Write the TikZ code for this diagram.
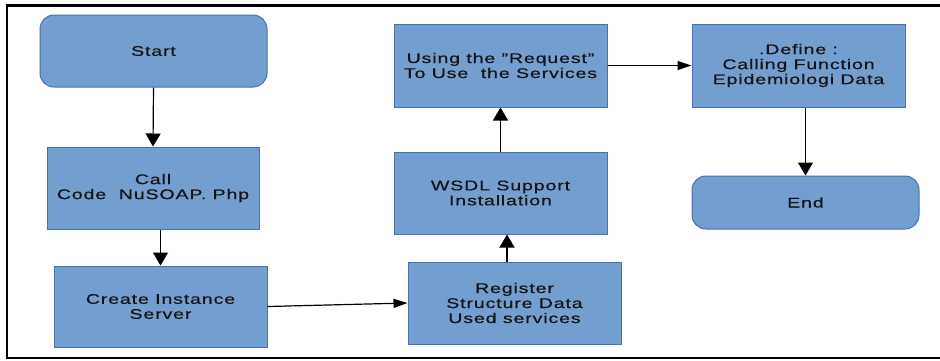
\documentclass[tikz,border=0pt]{standalone}
\usepackage{fontspec}
\setmainfont{Liberation Sans}[FakeStretch=1.4,LetterSpace=6,FakeBold=0.4]
\usetikzlibrary{arrows.meta}
\definecolor{boxfill}{HTML}{729FCF}
\definecolor{boxline}{HTML}{4472B4}
\definecolor{txt}{HTML}{141414}
\begin{document}
\begin{tikzpicture}[x=1pt,y=-1pt,
  flowbox/.style={draw=boxline,fill=boxfill,line width=1pt,minimum width=213pt,minimum height=82pt,
    align=center,text=txt,font=\fontsize{14}{15}\selectfont,inner sep=0pt},
  termbox/.style={flowbox,rounded corners=14pt,minimum width=227pt},
  arrv/.style={line width=1.2pt,-{Triangle[width=15pt,length=13pt]}},
  arrh/.style={line width=1.2pt,-{Triangle[width=9pt,length=14pt]}}]
\useasboundingbox (0,0) rectangle (940,360);
\draw[line width=3pt] (940,5) -- (7,5);
\draw[line width=2pt] (7,4) -- (7,358);
\draw[line width=1.5pt] (6,358) -- (940,358);
\node[termbox,minimum height=72pt] (start) at (153.5,51) {Start};
\node[flowbox,minimum width=212pt] (call) at (153,188) {Call\\Code\ \ NuSOAP. Php};
\node[flowbox,minimum height=81pt] (create) at (160.5,306.5) {Create Instance\\Server};
\node[flowbox] (reg) at (514.5,303) {Register\\Structure Data\\Used services};
\node[flowbox] (wsdl) at (500.5,193) {WSDL Support\\Installation};
\node[flowbox,minimum height=83pt] (using) at (500.5,65.5) {Using the "Request"\\To Use\ \ the Services};
\node[flowbox,minimum height=83pt] (define) at (798.5,65.5) {.Define :\\Calling Function\\Epidemiologi Data};
\node[termbox,minimum height=53pt] (end) at (805.5,202.5) {End};
\draw[arrv] (start.south) -- (call.north);
\draw[arrv] (call.south -| create.north) -- (create.north);
\draw[arrh] (create.east) -- (reg.west);
\draw[arrv] ([xshift=-7.5pt]reg.north) -- ([xshift=-7.5pt]reg.north |- wsdl.south);
\draw[arrv] (wsdl.north) -- (using.south);
\draw[arrh] (using.east) -- (define.west);
\draw[arrv] (end.north |- define.south) -- (end.north);
\end{tikzpicture}
\end{document}
